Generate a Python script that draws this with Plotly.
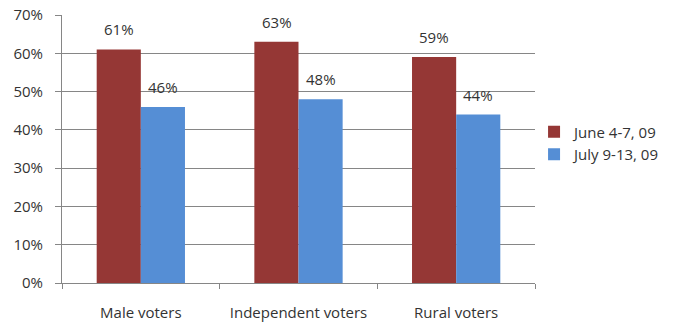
import plotly.graph_objects as go

categories = ["Male voters", "Independent voters", "Rural voters"]
june = [61, 63, 59]
july = [46, 48, 44]
series_names = ["June 4-7, 09", "July 9-13, 09"]
yticks = [0, 10, 20, 30, 40, 50, 60, 70]
ytick_labels = [f"{v}%" for v in yticks]

RED = "#953735"
BLUE = "#558ED5"
FONT = "Open Sans"
TXT = "#333333"
FS = 15

fig = go.Figure()
fig.add_bar(x=categories, y=june, name=series_names[0], marker_color=RED,
            marker_line_width=0)
fig.add_bar(x=categories, y=july, name=series_names[1], marker_color=BLUE,
            marker_line_width=0)

annotations = []
for vals, shift in ((june, -22), (july, 22)):
    for c, v in zip(categories, vals):
        annotations.append(dict(x=c, y=v, xref="x", yref="y", text=f"{v}%",
                                showarrow=False, yanchor="bottom", yshift=8,
                                xshift=shift,
                                font=dict(family=FONT, size=FS, color=TXT)))

fig.update_layout(
    width=678, height=323,
    margin=dict(l=62, r=143, t=15, b=40),
    paper_bgcolor="white", plot_bgcolor="white",
    barmode="group", bargap=0.44, bargroupgap=0,
    font=dict(family=FONT, size=FS, color=TXT),
    annotations=annotations,
    legend=dict(x=0.998, xanchor="left", y=0.522, yanchor="middle",
                font=dict(family=FONT, size=FS, color=TXT),
                itemwidth=30, tracegroupgap=0, bgcolor="rgba(0,0,0,0)"),
    showlegend=True,
)
fig.update_xaxes(showline=True, linecolor="#868686", linewidth=1,
                 ticks="outside", tickson="boundaries", ticklen=5,
                 tickcolor="#868686", showgrid=False, automargin=False,
                 ticklabelstandoff=16,
                 tickfont=dict(family=FONT, size=FS, color=TXT))
fig.update_yaxes(range=[0, 70], tickvals=yticks, ticktext=ytick_labels,
                 showline=True, linecolor="#868686", linewidth=1,
                 ticks="outside", ticklen=6, tickcolor="#868686",
                 showgrid=True, gridcolor="#868686", gridwidth=1,
                 zeroline=False, ticklabelstandoff=9, automargin=False,
                 tickfont=dict(family=FONT, size=FS, color=TXT))

fig.write_html("out.html")
